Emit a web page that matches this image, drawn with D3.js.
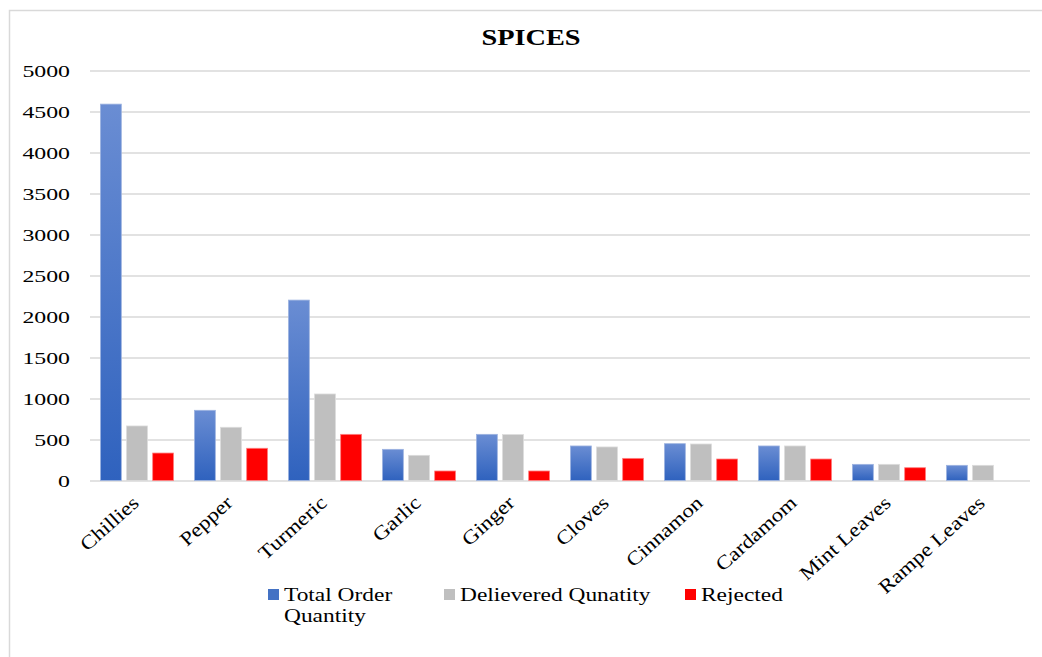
<!DOCTYPE html>
<html>
<head>
<meta charset="utf-8">
<script src="https://cdn.jsdelivr.net/npm/d3@7"></script>
<style>
  body { margin: 0; background: #fff; }
  svg text { font-family: "Liberation Serif", "Times New Roman", serif; fill: #000; }
</style>
</head>
<body>
<div id="chart"></div>
<script>
// chart data
const categories = ['Chillies', 'Pepper', 'Turmeric', 'Garlic', 'Ginger', 'Cloves', 'Cinnamon', 'Cardamom', 'Mint Leaves', 'Rampe Leaves'];
const seriesNames = ['Total Order Quantity', 'Delievered Qunatity', 'Rejected'];
const totalOrder = [4590, 856, 2200, 380, 563, 421, 449, 421, 197, 185];
const delivered = [665, 649, 1055, 307, 560, 409, 445, 421, 197, 185];
const rejected = [335, 393, 563, 116, 116, 270, 262, 262, 156, 0];
const yTicks = [0, 500, 1000, 1500, 2000, 2500, 3000, 3500, 4000, 4500, 5000];

const width = 1042, height = 657;
const margin = { left: 90, right: 12, top: 71, bottom: 176 };

const svg = d3.select('#chart').append('svg')
  .attr('width', width)
  .attr('height', height);

// stretch text horizontally the way the original was rendered
function stretch(sel, k) {
  sel.each(function() {
    let len = this.getComputedTextLength();
    d3.select(this).attr('textLength', len * k).attr('lengthAdjust', 'spacingAndGlyphs');
  });
}

let defs = svg.append('defs');
let grad = defs.append('linearGradient')
  .attr('id', 'blueGrad')
  .attr('x1', 0).attr('y1', 0).attr('x2', 0).attr('y2', 1);
grad.append('stop').attr('offset', '0%').attr('stop-color', '#6a8dd3');
grad.append('stop').attr('offset', '100%').attr('stop-color', '#2f62be');

const fills = ['url(#blueGrad)', '#bfbfbf', '#ff0000'];
const strokes = ['#9db3e0', '#dcdcdc', '#ff8080'];
const legendFills = ['#4472c4', '#bfbfbf', '#ff0000'];

// outer frame
svg.append('rect')
  .attr('x', 9.5).attr('y', 10.5)
  .attr('width', 1050).attr('height', 670)
  .attr('fill', '#fff')
  .attr('stroke', '#d9d9d9')
  .attr('stroke-width', 1.5);

let title = svg.append('text')
  .attr('x', 531).attr('y', 45)
  .attr('text-anchor', 'middle')
  .attr('font-size', '24px')
  .attr('font-weight', 'bold')
  .text('SPICES');
stretch(title, 1.18);

const x0 = d3.scaleBand()
  .domain(categories)
  .range([margin.left, width - margin.right])
  .paddingInner(0.222)
  .paddingOuter(0.111);

const x1 = d3.scaleBand()
  .domain(d3.range(3))
  .range([0, x0.bandwidth()])
  .paddingInner(0.2);

const y = d3.scaleLinear()
  .domain([0, 5000])
  .range([height - margin.bottom - 0.5, margin.top - 0.5]);

// gridlines
let yAxis = svg.append('g')
  .attr('transform', `translate(${margin.left},0)`)
  .call(d3.axisLeft(y).tickValues(yTicks).tickSize(-(width - margin.left - margin.right)).tickFormat(d3.format('d')));
yAxis.select('.domain').remove();
yAxis.selectAll('.tick line').attr('stroke', '#d9d9d9').attr('stroke-width', 1.5);
yAxis.selectAll('.tick text')
  .attr('x', -20)
  .attr('dy', '0.36em')
  .attr('font-size', '17px')
  .attr('font-family', '"Liberation Serif", serif')
  .attr('fill', '#000');
stretch(yAxis.selectAll('.tick text'), 1.4);

let seriesData = [totalOrder, delivered, rejected];

let groups = svg.append('g').selectAll('g')
  .data(categories)
  .join('g')
  .attr('transform', d => `translate(${x0(d)},0)`);

groups.selectAll('rect')
  .data((d, i) => seriesData.map((s, k) => ({ k: k, v: s[i] })))
  .join('rect')
  .filter(d => d.v > 0)
  .attr('x', d => x1(d.k))
  .attr('y', d => y(d.v))
  .attr('width', x1.bandwidth())
  .attr('height', d => y(0) - y(d.v))
  .attr('fill', d => fills[d.k])
  .attr('stroke', d => strokes[d.k])
  .attr('stroke-width', 0.8);

// category labels
let xLabels = svg.append('g').selectAll('text')
  .data(categories)
  .join('text')
  .attr('text-anchor', 'end')
  .attr('font-size', '19.5px')
  .attr('transform', d => `translate(${x0(d) + x0.bandwidth() / 2 + 3},${y(0) + 24}) rotate(-42)`)
  .text(d => d);
stretch(xLabels, 1.17);

// legend
const legendX = [268, 444, 685];
let legend = svg.append('g').selectAll('g')
  .data(seriesNames)
  .join('g')
  .attr('transform', (d, i) => `translate(${legendX[i]},589)`);
legend.append('rect')
  .attr('width', 11).attr('height', 11)
  .attr('fill', (d, i) => legendFills[i]);
let legendText = legend.append('text')
  .attr('y', 12)
  .attr('font-size', '19.5px');
legendText.each(function(d, i) {
  let lines = i === 0 ? ['Total Order', 'Quantity'] : [d];
  let t = d3.select(this);
  lines.forEach((ln, j) => {
    t.append('tspan').attr('x', 16).attr('dy', j === 0 ? 0 : 21).text(ln);
  });
});
legendText.selectAll('tspan').each(function() {
  let len = this.getComputedTextLength();
  d3.select(this).attr('textLength', len * 1.2).attr('lengthAdjust', 'spacingAndGlyphs');
});
</script>
</body>
</html>
